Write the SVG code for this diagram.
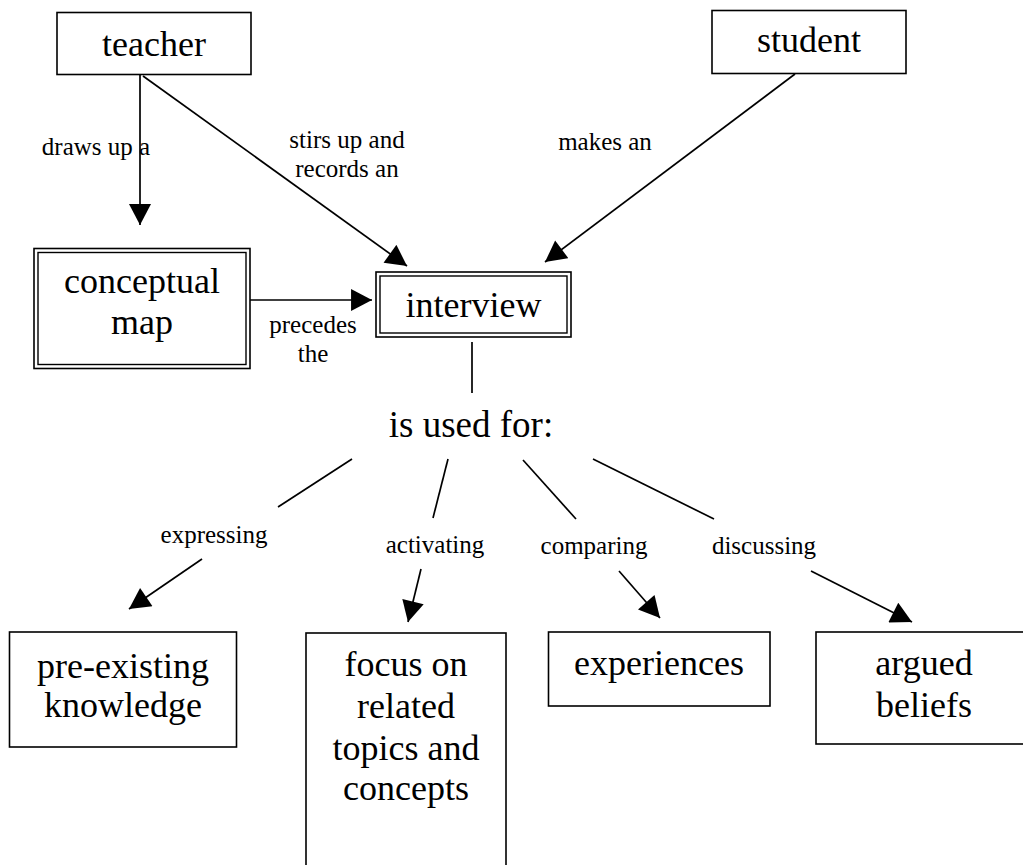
<svg xmlns="http://www.w3.org/2000/svg" width="1023" height="865" viewBox="0 0 1023 865">
<defs>
<style>
.box{fill:#fff;stroke:#000;stroke-width:1.6}
.inner{fill:none;stroke:#000;stroke-width:1.4}
.nt{font-family:"Liberation Serif","Times New Roman",serif;font-size:36px;fill:#000;text-anchor:middle}
.lt{font-family:"Liberation Serif","Times New Roman",serif;font-size:25px;fill:#000;text-anchor:middle}
.ln{stroke:#000;stroke-width:1.7;fill:none}
.ar{stroke:#000;stroke-width:1.7;fill:none;marker-end:url(#ah)}
</style>
<marker id="ah" markerUnits="userSpaceOnUse" markerWidth="22" markerHeight="22" refX="20" refY="10.5" orient="auto" viewBox="0 0 20 21">
<path d="M0,0 L20,10.5 L0,21 z" fill="#000"/>
</marker>
</defs>
<rect width="1023" height="865" fill="#fff"/>

<g id="connectors">
<line class="ar" x1="140" y1="75" x2="140" y2="225"/>
<line class="ar" x1="143" y1="76" x2="407" y2="266"/>
<line class="ar" x1="795" y1="74" x2="545" y2="262"/>
<line class="ar" x1="250" y1="300" x2="372" y2="300"/>
<line class="ln" x1="472" y1="342" x2="472" y2="393"/>
<line class="ln" x1="352" y1="459" x2="278" y2="507"/>
<line class="ar" x1="202" y1="559" x2="129" y2="609"/>
<line class="ln" x1="448" y1="459" x2="433" y2="518"/>
<line class="ar" x1="421" y1="569" x2="408" y2="622"/>
<line class="ln" x1="523" y1="460" x2="576" y2="519"/>
<line class="ar" x1="619" y1="571" x2="660" y2="618"/>
<line class="ln" x1="593" y1="459" x2="714" y2="519"/>
<line class="ar" x1="811" y1="571" x2="912" y2="622"/>
<text class="lt" x="96" y="155">draws up a</text>
<text class="lt" x="347" y="148">stirs up and</text>
<text class="lt" x="347" y="177">records an</text>
<text class="lt" x="605" y="150">makes an</text>
<text class="lt" x="313" y="333">precedes</text>
<text class="lt" x="313" y="362">the</text>
<text class="lt" x="214" y="543">expressing</text>
<text class="lt" x="435" y="553">activating</text>
<text class="lt" x="594" y="554">comparing</text>
<text class="lt" x="764" y="554">discussing</text>
</g>

<g id="teacher">
<rect class="box" x="57" y="12.5" width="194" height="62"/>
<text class="nt" x="154" y="56">teacher</text>
</g>
<g id="student">
<rect class="box" x="712" y="10.5" width="194" height="63"/>
<text class="nt" x="809" y="52">student</text>
</g>
<g id="conceptual-map">
<rect class="box" x="34" y="248.5" width="216" height="120"/>
<rect class="inner" x="38" y="252.5" width="208" height="112"/>
<text class="nt" x="142" y="293">conceptual</text>
<text class="nt" x="142" y="334">map</text>
</g>
<g id="interview">
<rect class="box" x="376" y="272" width="195" height="65"/>
<rect class="inner" x="380" y="276" width="187" height="57"/>
<text class="nt" x="473.5" y="317">interview</text>
</g>
<g id="is-used-for">
<text class="nt" x="471" y="437" style="font-size:37px">is used for:</text>
</g>
<g id="pre-existing-knowledge">
<rect class="box" x="9.5" y="632" width="227" height="115"/>
<text class="nt" x="123" y="678">pre-existing</text>
<text class="nt" x="123" y="717">knowledge</text>
</g>
<g id="focus">
<rect class="box" x="306" y="633" width="200" height="260"/>
<text class="nt" x="406" y="676">focus on</text>
<text class="nt" x="406" y="718">related</text>
<text class="nt" x="406" y="760">topics and</text>
<text class="nt" x="406" y="800">concepts</text>
</g>
<g id="experiences">
<rect class="box" x="548.5" y="632" width="221.5" height="74"/>
<text class="nt" x="659" y="675">experiences</text>
</g>
<g id="argued-beliefs">
<rect class="box" x="816" y="632" width="216" height="112"/>
<text class="nt" x="924" y="675">argued</text>
<text class="nt" x="924" y="717">beliefs</text>
</g>
</svg>
